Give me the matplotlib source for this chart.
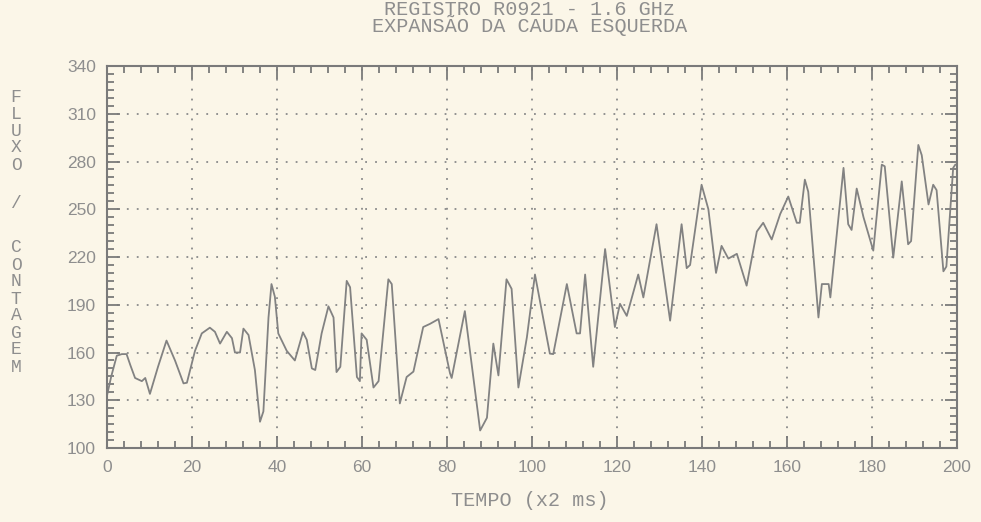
import numpy as np
import matplotlib
matplotlib.use("Agg")
from matplotlib import pyplot as plt
from matplotlib.ticker import MultipleLocator

# values (tempo in x2 ms, fluxo / contagem)
tempo = [0, 1, 2.3, 3.5, 4.6, 5.5, 6.6, 8.2, 9.0, 10.1, 12, 14, 16, 18, 18.8,
         20.7, 22.3, 24.2, 25.4, 26.6, 28.2, 29.4, 30.1, 31.3, 32.1, 33.3, 34.8,
         36, 36.8, 38, 38.7, 39.5, 40.3, 42.3, 44.2, 46.1, 47, 48.2, 49, 50.5,
         52.1, 53.3, 54, 54.9, 56.4, 57.2, 58.8, 59.5, 59.9, 61.1, 62.7, 63.9,
         66.2, 67, 68.9, 70.5, 72.1, 74.4, 76, 78, 80.7, 81.1, 84.2, 87.8, 89.4,
         90.9, 92.1, 94, 95.2, 96.8, 98.8, 100.7, 104.2, 105, 108.2, 110.5,
         111.3, 112.5, 114.4, 117.2, 119.5, 120.7, 122.3, 125, 126.2, 129.3,
         132.5, 135.2, 136.4, 137.2, 139.9, 141.5, 143.3, 144.6, 146.2, 148.2,
         150.5, 152.9, 154.4, 156.4, 158.4, 160.3, 162.3, 163, 164.2, 165,
         167.4, 168.2, 169.8, 170.2, 173.3, 174.4, 175.2, 176.4, 178, 180.3,
         182.3, 183, 185, 187, 188.5, 189.2, 190.9, 191.7, 193.3, 194.4, 195.2,
         196.8, 197.5, 199.1, 199.6]
fluxo = [133, 145, 158, 159, 159, 152, 144, 142, 144, 134, 151, 167.5, 155,
         140.6, 141, 161, 172, 175.6, 173, 165.6, 173, 169, 160, 160, 175, 171,
         149, 116.5, 123, 182, 203, 195, 172, 161, 155, 172.7, 168, 150, 149,
         172, 189, 182, 147.7, 151, 205, 201, 144.6, 142, 172, 168, 138, 142,
         206, 203, 128, 144.6, 148, 176, 178, 181, 147, 144, 186, 111, 119,
         165.6, 145.6, 206, 200, 138, 169.6, 209, 159.3, 159, 203, 172, 172,
         209, 151, 225, 176, 190.6, 183, 209, 194.6, 240.6, 180, 240.6, 213,
         215, 265.4, 250, 210, 227, 219, 222, 202, 236, 241.5, 231, 247, 258,
         241.5, 241.5, 268.6, 261, 182, 203, 203, 194.6, 276, 240.6, 237, 263,
         245, 224, 278, 277, 219.6, 267.5, 228, 230, 290.4, 284, 253, 265.4,
         262, 211, 214, 276, 278]

x_ticks = [0, 20, 40, 60, 80, 100, 120, 140, 160, 180, 200]
y_ticks = [100, 130, 160, 190, 220, 250, 280, 310, 340]
title_1 = "REGISTRO R0921 - 1.6 GHz"
title_2 = "EXPANSÃO DA CAUDA ESQUERDA"
x_label = "TEMPO (x2 ms)"
y_label_1 = "FLUXO"
y_label_2 = "CONTAGEM"

paper = "#fbf6e8"
ink = "#7a7a7a"
text_ink = "#8e8e8e"
mono = ["Liberation Mono", "DejaVu Sans Mono"]

fig = plt.figure(figsize=(9.81, 5.22), dpi=100, facecolor=paper)
ax = fig.add_axes([107 / 981, 1 - 448 / 522, 850 / 981, 382 / 522])
ax.set_facecolor(paper)

ax.plot(tempo, fluxo, color="#828282", linewidth=1.3)

ax.set_xlim(0, 200)
ax.set_ylim(100, 340)
ax.set_xticks(x_ticks)
ax.set_yticks(y_ticks)
ax.xaxis.set_minor_locator(MultipleLocator(4))
ax.yaxis.set_minor_locator(MultipleLocator(5))

ax.grid(True, which="major", color="#8a8a8a", linestyle=(0, (1, 4.5)), linewidth=1.3)
ax.tick_params(which="both", direction="in", top=True, right=True, color=ink, width=1.3)
ax.tick_params(which="major", length=9)
ax.tick_params(which="minor", length=5)
ax.tick_params(axis="x", pad=9, labelsize=12.5, labelcolor=text_ink)
ax.tick_params(axis="y", pad=8, labelsize=12.5, labelcolor=text_ink)
for lab in ax.get_xticklabels() + ax.get_yticklabels():
    lab.set_family("Liberation Sans")

for sp in ax.spines.values():
    sp.set_color(ink)
    sp.set_linewidth(1.5)

# title and axis labels in plotter style
fig.text(530 / 981, 1 - 18 / 522, title_1 + "\n" + title_2, ha="center", va="center",
         family=mono, fontsize=14.5, color=text_ink, linespacing=0.72)
fig.text(530 / 981, 1 - 500 / 522, x_label, ha="center", va="center",
         family=mono, fontsize=14.5, color=text_ink)

# vertical label, one letter per line
letter_y = [97, 114, 131, 148, 165]
for ch, yy in zip(y_label_1, letter_y):
    fig.text(16 / 981, 1 - yy / 522, ch, ha="center", va="center",
             family=mono, fontsize=13, color=text_ink)
fig.text(16 / 981, 1 - 204 / 522, "/", ha="center", va="center",
         family=mono, fontsize=13, color=text_ink)
letter_y = [248, 265, 282, 299, 316, 333, 350, 367]
for ch, yy in zip(y_label_2, letter_y):
    fig.text(16 / 981, 1 - yy / 522, ch, ha="center", va="center",
             family=mono, fontsize=13, color=text_ink)

fig.savefig("out.png", dpi=100, facecolor=paper)
